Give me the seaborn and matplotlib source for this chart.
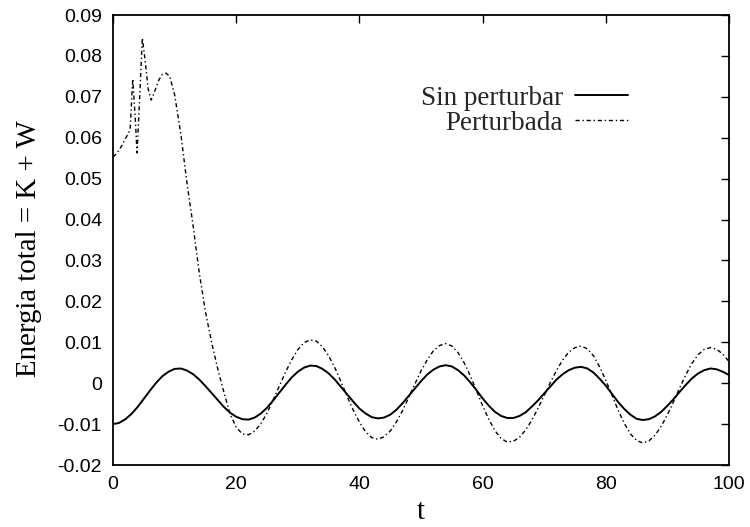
import matplotlib
matplotlib.use("Agg")
import matplotlib.pyplot as plt
import seaborn as sns
import pandas as pd

# ---- data ----
t_sin = list(range(0, 101))
e_sin = [-0.0100, -0.0097, -0.0088, -0.0075, -0.0058, -0.0038, -0.0018, 0.0001, 0.0017, 0.0028,
         0.0035, 0.0036, 0.0031, 0.0022, 0.0009, -0.0007, -0.0024, -0.0041, -0.0058, -0.0072,
         -0.0082, -0.0088, -0.0089, -0.0084, -0.0074, -0.0060, -0.0042, -0.0023, -0.0004, 0.0014,
         0.0028, 0.0038, 0.0043, 0.0042, 0.0035, 0.0024, 0.0009, -0.0009, -0.0027, -0.0045,
         -0.0062, -0.0074, -0.0083, -0.0086, -0.0084, -0.0077, -0.0065, -0.0049, -0.0031, -0.0013,
         0.0005, 0.0021, 0.0033, 0.0041, 0.0044, 0.0041, 0.0032, 0.0019, 0.0002, -0.0017,
         -0.0037, -0.0055, -0.0070, -0.0080, -0.0085, -0.0085, -0.0080, -0.0071, -0.0057, -0.0042,
         -0.0025, -0.0008, 0.0009, 0.0022, 0.0032, 0.0038, 0.0040, 0.0036, 0.0026, 0.0011,
         -0.0006, -0.0026, -0.0046, -0.0063, -0.0077, -0.0087, -0.0090, -0.0088, -0.0081, -0.0070,
         -0.0055, -0.0039, -0.0021, -0.0004, 0.0012, 0.0024, 0.0032, 0.0036, 0.0034, 0.0028,
         0.0020]

t_per = [0, 0.5, 1.0, 1.5, 2.0, 2.5, 2.8, 3.2, 3.6, 3.9, 4.3, 4.76, 5.2, 5.7, 6.2, 6.8, 7.4,
         8.0, 8.6, 9.2] + list(range(10, 101))
e_per = [0.0553, 0.0560, 0.0570, 0.0583, 0.0598, 0.0610, 0.0625, 0.0744, 0.0650, 0.0563,
         0.0690, 0.0844, 0.0790, 0.0720, 0.0692, 0.0715, 0.0740, 0.0755, 0.0758, 0.0750,
         0.0705, 0.0610, 0.0490, 0.0385, 0.0270, 0.0175, 0.0100, 0.0035, -0.0022, -0.0075,
         -0.0108, -0.0124, -0.0126, -0.0117, -0.0099, -0.0073, -0.0041, -0.0007, 0.0027, 0.0057,
         0.0082, 0.0099, 0.0106, 0.0103, 0.0089, 0.0067, 0.0038, 0.0004, -0.0032, -0.0066,
         -0.0095, -0.0119, -0.0133, -0.0137, -0.0131, -0.0117, -0.0095, -0.0067, -0.0035, -0.0002,
         0.0030, 0.0057, 0.0079, 0.0092, 0.0097, 0.0091, 0.0075, 0.0050, 0.0018, -0.0018,
         -0.0055, -0.0088, -0.0116, -0.0135, -0.0144, -0.0142, -0.0132, -0.0114, -0.0090, -0.0061,
         -0.0030, 0.0002, 0.0031, 0.0057, 0.0076, 0.0087, 0.0091, 0.0084, 0.0067, 0.0040,
         0.0007, -0.0029, -0.0066, -0.0098, -0.0124, -0.0140, -0.0146, -0.0141, -0.0127, -0.0105,
         -0.0077, -0.0045, -0.0011, 0.0021, 0.0049, 0.0070, 0.0083, 0.0087, 0.0083, 0.0071,
         0.0053]

x_ticks = [0, 20, 40, 60, 80, 100]
x_tick_labels = ["0", "20", "40", "60", "80", "100"]
y_ticks = [-0.02, -0.01, 0.0, 0.01, 0.02, 0.03, 0.04, 0.05, 0.06, 0.07, 0.08, 0.09]
y_tick_labels = ["-0.02", "-0.01", "0", "0.01", "0.02", "0.03", "0.04", "0.05",
                 "0.06", "0.07", "0.08", "0.09"]

label_sin = "Sin perturbar"
label_per = "Perturbada"
x_label = "t"
y_label = "Energia total = K + W"

# ---- plotting ----
sns.set_theme(style="white")
plt.rcParams["font.family"] = ["Liberation Sans", "DejaVu Sans"]

df_sin = pd.DataFrame({"t": t_sin, "E": e_sin})
df_per = pd.DataFrame({"t": t_per, "E": e_per})

fig = plt.figure(figsize=(7.5, 5.27), dpi=100)
ax = fig.add_axes([0.1507, 0.1176, 0.8213, 0.8539])

sns.lineplot(data=df_sin, x="t", y="E", ax=ax, color="black", linewidth=1.4,
             label=label_sin, sort=False, estimator=None)
sns.lineplot(data=df_per, x="t", y="E", ax=ax, color="black", linewidth=1.0,
             linestyle=(0, (3, 2, 1, 2)), label=label_per, sort=False, estimator=None)

ax.set_xlim(0, 100)
ax.set_ylim(-0.02, 0.09)
ax.set_xticks(x_ticks)
ax.set_xticklabels(x_tick_labels)
ax.set_yticks(y_ticks)
ax.set_yticklabels(y_tick_labels)

ax.tick_params(axis="both", which="major", direction="in", length=6, width=1,
               top=True, right=True, labelsize=14, colors="black", pad=8)
for s in ax.spines.values():
    s.set_visible(True)
    s.set_color("black")
    s.set_linewidth(1.3)

serif = ["Liberation Serif", "DejaVu Serif"]
ax.set_xlabel(x_label, fontsize=20.8, family=serif, labelpad=4, color="black")
ax.set_ylabel(y_label, fontsize=20.8, family=serif, labelpad=11, color="black")
ax.yaxis.label.set_y(0.48)

leg = ax.legend(loc="upper right", bbox_to_anchor=(0.836, 0.843), frameon=False,
                markerfirst=False, handlelength=1.95, handletextpad=0.45,
                labelspacing=0.0,
                prop={"family": serif, "size": 19.5}, borderaxespad=0, borderpad=0)
for txt in leg.get_texts():
    txt.set_ha("right")

ax.grid(False)
fig.savefig("out.png", dpi=100)
